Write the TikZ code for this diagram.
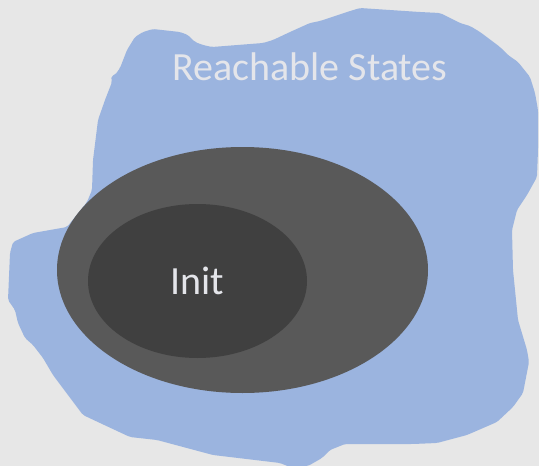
\documentclass[tikz,border=0pt]{standalone}
\usepackage{fontspec}
\setmainfont{Carlito}
\usetikzlibrary{shapes.geometric}

\definecolor{canvas}{HTML}{E7E7E7}
\definecolor{reachblue}{HTML}{9BB4DF}
\definecolor{setgray}{HTML}{595959}
\definecolor{initgray}{HTML}{404040}
\definecolor{labelgray}{HTML}{E4E5EA}

\begin{document}
\begin{tikzpicture}[
    x=1pt, y=-1pt,
    reach/.style={fill=reachblue, rounded corners=2pt},
    stateset/.style={ellipse, fill=setgray, inner sep=0pt},
    initset/.style={ellipse, fill=initgray, inner sep=0pt},
    setlabel/.style={text=labelgray, font=\fontsize{40}{40}\selectfont, inner sep=0pt},
]

% page and background
\useasboundingbox (0,0) rectangle (539,466);
\fill[canvas] (0,0) rectangle (539,466);

% Reachable states blob
\fill[reach] (153,29) -- (180,32) -- (188,35) -- (195,42) -- (203,45) -- (212,47)
  -- (263,43) -- (273,40) -- (290,32) -- (310,23) -- (320,21) -- (347,12)
  -- (360,8) -- (420,12) -- (440,13) -- (460,23) -- (470,26) -- (480,32)
  -- (500,47) -- (508,55) -- (518,62) -- (530,77) -- (535,93) -- (538,110)
  -- (538,150) -- (537,177) -- (527,195) -- (517,210) -- (512,230) -- (513,270)
  -- (518,320) -- (527,350) -- (529,362) -- (523,393) -- (513,407) -- (497,422)
  -- (467,435) -- (437,443) -- (413,444) -- (345,444) -- (330,450) -- (322,458)
  -- (308,466) -- (290,467) -- (280,463) -- (213,455) -- (157,440) -- (130,437)
  -- (100,423) -- (83,415) -- (53,375) -- (43,358) -- (33,345) -- (25,338)
  -- (18,323) -- (15,310) -- (8,300) -- (10,253) -- (13,242) -- (33,233)
  -- (67,227) -- (87,202) -- (92,190) -- (93,160) -- (98,120) -- (105,100)
  -- (112,82) -- (111,76) -- (115,75) -- (120,68) -- (127,50) -- (135,37)
  -- (143,32) -- cycle;

% nested sets
\node[stateset, minimum width=371pt, minimum height=246pt] (states) at (242.5,270) {};
\node[initset, minimum width=219pt, minimum height=154pt] (init) at (197.5,281) {};

% labels
\node[setlabel] (reachlabel) at (310,67) {Reachable States};
\node[setlabel] (initlabel) at (init.center) {Init};

\end{tikzpicture}
\end{document}
